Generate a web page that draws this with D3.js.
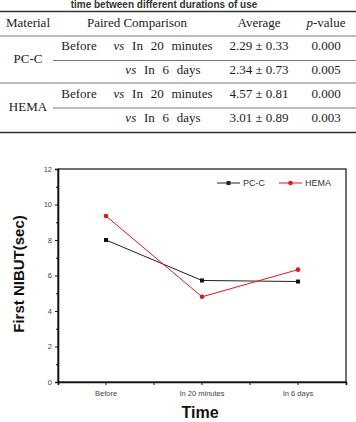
<!DOCTYPE html>
<html>
<head>
<meta charset="utf-8">
<script src="https://cdn.jsdelivr.net/npm/d3@7"></script>
<style>
  body { margin: 0; background: #fff; }
  svg { display: block; }
</style>
</head>
<body>
<div id="chart"></div>
<script>
// Table data
const tableHeader = ["Material", "Paired Comparison", "Average", "p-value"];
const tableMaterials = ["PC-C", "HEMA"];
const tableFrom = ["Before", "", "Before", ""];
const tableVs = ["In 20 minutes", "In 6 days", "In 20 minutes", "In 6 days"];
const tableAvg = ["2.29 ± 0.33", "2.34 ± 0.73", "4.57 ± 0.81", "3.01 ± 0.89"];
const tableP = ["0.000", "0.005", "0.000", "0.003"];

// Chart data
const categories = ["Before", "In 20 minutes", "In 6 days"];
const pccValues = [8.0, 5.72, 5.66];
const hemaValues = [9.35, 4.8, 6.33];
const yTicks = [0, 2, 4, 6, 8, 10, 12];

const W = 356, H = 422;
let svg = d3.select("#chart").append("svg")
    .attr("width", W)
    .attr("height", H);

// ---- Table ----
let serif = "'Liberation Serif', 'Times New Roman', serif";
let tbl = svg.append("g").style("font-family", serif).style("font-size", "13px").attr("fill", "#1a1a1a");

// caption (partly hidden behind the page edge in the source)
svg.append("text")
    .attr("x", 164).attr("y", 8)
    .attr("text-anchor", "middle")
    .style("font-family", "Arial, 'Liberation Sans', sans-serif")
    .style("font-size", "10px").style("font-weight", "bold")
    .attr("fill", "#333")
    .text("time between different durations of use");

let colX = [28, 137, 259, 326];
let rowY = [47, 71, 95, 119];

tbl.append("line").attr("x1", 0).attr("x2", W).attr("y1", 11.5).attr("y2", 11.5)
    .attr("stroke", "#333").attr("stroke-width", 1.6);
tbl.append("line").attr("x1", 0).attr("x2", W).attr("y1", 36).attr("y2", 36)
    .attr("stroke", "#555").attr("stroke-width", 0.8);
tbl.append("line").attr("x1", 53).attr("x2", W).attr("y1", 60.5).attr("y2", 60.5)
    .attr("stroke", "#555").attr("stroke-width", 0.8);
tbl.append("line").attr("x1", 0).attr("x2", W).attr("y1", 83).attr("y2", 83)
    .attr("stroke", "#555").attr("stroke-width", 0.8);
tbl.append("line").attr("x1", 53).attr("x2", W).attr("y1", 108).attr("y2", 108)
    .attr("stroke", "#555").attr("stroke-width", 0.8);
tbl.append("line").attr("x1", 0).attr("x2", W).attr("y1", 132.5).attr("y2", 132.5)
    .attr("stroke", "#333").attr("stroke-width", 1.6);

// header
tableHeader.forEach(function(h, i) {
    let t = tbl.append("text").attr("x", colX[i]).attr("y", 24)
        .attr("text-anchor", "middle").attr("dominant-baseline", "middle");
    if (h === "p-value") {
        t.append("tspan").style("font-style", "italic").text("p");
        t.append("tspan").text("-value");
    } else {
        t.text(h);
    }
});

// materials
tableMaterials.forEach(function(m, i) {
    tbl.append("text").attr("x", colX[0]).attr("y", (rowY[i * 2] + rowY[i * 2 + 1]) / 2 + 1)
        .attr("text-anchor", "middle").attr("dominant-baseline", "middle").text(m);
});

rowY.forEach(function(y, i) {
    if (tableFrom[i]) {
        tbl.append("text").attr("x", 79).attr("y", y)
            .attr("text-anchor", "middle").attr("dominant-baseline", "middle").text(tableFrom[i]);
    }
    let t = tbl.append("text").attr("x", 163).attr("y", y)
        .attr("text-anchor", "middle").attr("dominant-baseline", "middle")
        .style("word-spacing", "4.5px");
    t.append("tspan").style("font-style", "italic").text("vs");
    t.append("tspan").text(" " + tableVs[i]);
    tbl.append("text").attr("x", colX[2]).attr("y", y)
        .attr("text-anchor", "middle").attr("dominant-baseline", "middle").text(tableAvg[i]);
    tbl.append("text").attr("x", colX[3]).attr("y", y)
        .attr("text-anchor", "middle").attr("dominant-baseline", "middle").text(tableP[i]);
});

// ---- Chart ----
let margin = {top: 169, left: 58},
    width = 288,
    height = 213;

let g = svg.append("g")
    .attr("transform", "translate(" + margin.left + "," + margin.top + ")")
    .style("font-family", "Arial, 'Liberation Sans', sans-serif");

let x = d3.scaleBand().domain(categories).range([0, width]);
let y = d3.scaleLinear().domain([0, 12]).range([height, 0]);

// frame
g.append("rect").attr("width", width).attr("height", height)
    .attr("fill", "none").attr("stroke", "#111").attr("stroke-width", 1.2);

// y axis
let yAxis = g.append("g")
    .call(d3.axisLeft(y).tickValues(yTicks).tickSize(3).tickPadding(3));
yAxis.select(".domain").attr("stroke", "#111").attr("stroke-width", 1.6);
yAxis.selectAll(".tick line").attr("stroke", "#111");
yAxis.selectAll(".tick text").attr("fill", "#444").style("font-size", "7.5px");
g.append("g")
    .call(d3.axisLeft(y).tickValues(d3.range(1, 12, 2)).tickSize(2).tickFormat(""))
    .call(function(a) { a.select(".domain").remove(); })
    .selectAll(".tick line").attr("stroke", "#111");

// x axis
let xAxis = g.append("g")
    .attr("transform", "translate(0," + height + ")")
    .call(d3.axisBottom(x).tickSize(3).tickPadding(6));
xAxis.select(".domain").attr("stroke", "#111").attr("stroke-width", 1.6);
xAxis.selectAll(".tick line").attr("stroke", "#111");
xAxis.selectAll(".tick text").attr("fill", "#444").style("font-size", "7.5px");
// ticks at band boundaries
g.append("g")
    .attr("transform", "translate(0," + height + ")")
    .selectAll("line")
    .data(categories.slice(1))
    .enter().append("line")
    .attr("x1", function(d) { return x(d); })
    .attr("x2", function(d) { return x(d); })
    .attr("y1", 0).attr("y2", 3)
    .attr("stroke", "#111");

// axis titles
svg.append("text")
    .attr("transform", "translate(24,274) rotate(-90)")
    .attr("text-anchor", "middle")
    .style("font-family", "Arial, 'Liberation Sans', sans-serif")
    .style("font-size", "15px").style("font-weight", "bold")
    .attr("fill", "#111")
    .text("First NIBUT(sec)");
svg.append("text")
    .attr("x", margin.left + width / 2 - 2).attr("y", 418)
    .attr("text-anchor", "middle")
    .style("font-family", "Arial, 'Liberation Sans', sans-serif")
    .style("font-size", "16px").style("font-weight", "bold")
    .attr("fill", "#111")
    .text("Time");

// lines
let cx = function(d, i) { return x(categories[i]) + x.bandwidth() / 2; };
let line = d3.line()
    .x(function(d, i) { return cx(d, i); })
    .y(function(d) { return y(d); });

g.append("path").datum(pccValues)
    .attr("d", line).attr("fill", "none")
    .attr("stroke", "#222").attr("stroke-width", 1);
g.append("path").datum(hemaValues)
    .attr("d", line).attr("fill", "none")
    .attr("stroke", "#e8141c").attr("stroke-width", 1);

g.selectAll(".pcc").data(pccValues).enter().append("rect")
    .attr("class", "pcc")
    .attr("x", function(d, i) { return cx(d, i) - 2; })
    .attr("y", function(d) { return y(d) - 2; })
    .attr("width", 4).attr("height", 4)
    .attr("fill", "#111");
g.selectAll(".hema").data(hemaValues).enter().append("circle")
    .attr("class", "hema")
    .attr("cx", function(d, i) { return cx(d, i); })
    .attr("cy", function(d) { return y(d); })
    .attr("r", 2.3)
    .attr("fill", "#e8141c");

// legend
let legend = [
    {name: "PC-C", color: "#222", x: 159, shape: "square"},
    {name: "HEMA", color: "#e8141c", x: 221, shape: "circle"}
];
let lg = g.selectAll(".legend").data(legend).enter().append("g")
    .attr("transform", function(d) { return "translate(" + d.x + ",14)"; });
lg.append("line").attr("x1", 0).attr("x2", 23).attr("stroke", function(d) { return d.color; });
lg.each(function(d) {
    let s = d3.select(this);
    if (d.shape === "square") {
        s.append("rect").attr("x", 9.5).attr("y", -2).attr("width", 4).attr("height", 4).attr("fill", d.color);
    } else {
        s.append("circle").attr("cx", 11.5).attr("r", 2.3).attr("fill", d.color);
    }
});
lg.append("text").attr("x", 26).attr("dy", "0.35em")
    .style("font-size", "9px").attr("fill", "#333")
    .text(function(d) { return d.name; });
</script>
</body>
</html>
